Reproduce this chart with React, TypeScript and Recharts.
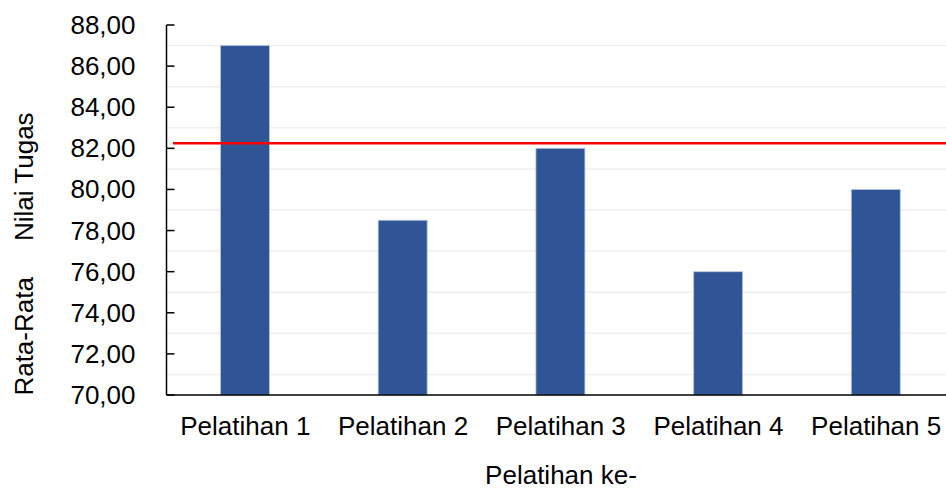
import React from "react";
import { BarChart, Bar, XAxis, YAxis, ReferenceLine, CartesianGrid } from "recharts";

const categories = ["Pelatihan 1", "Pelatihan 2", "Pelatihan 3", "Pelatihan 4", "Pelatihan 5"];
const values = [87, 78.5, 82, 76, 80];
const yTicks = [70, 72, 74, 76, 78, 80, 82, 84, 86, 88];
const gridValues = [71, 73, 75, 77, 79, 81, 83, 85, 87];
const targetValue = 82.25;
const xTitle = "Pelatihan ke-";
const yTitle = "Rata-Rata     Nilai Tugas";

const data = categories.map((c, i) => ({ name: c, value: values[i] }));

const FONT = "'Liberation Sans', Arial, sans-serif";

const YTick = (props: any) => {
  const { x, y, payload } = props;
  return (
    <g>
      <line x1={x} y1={y} x2={x + 8} y2={y} stroke="#000" strokeWidth={1.5} />
      <text x={x - 31} y={y + 9} textAnchor="end" fontSize={26} fontFamily={FONT} fill="#000">
        {payload.value.toFixed(2).replace(".", ",")}
      </text>
    </g>
  );
};

const XTick = (props: any) => {
  const { x, y, payload } = props;
  return (
    <text x={x} y={y + 40} textAnchor="middle" fontSize={26} fontFamily={FONT} fill="#000">
      {payload.value}
    </text>
  );
};

const RedLine = (props: any) => {
  const { x1, y1, x2, y2 } = props;
  return <line x1={x1 + 6.5} y1={y1} x2={x2} y2={y2} stroke="#ff0000" strokeWidth={2.6} />;
};

export default function App() {
  return (
    <div style={{ width: 946, height: 490, overflow: "hidden", position: "relative" }}>
      <style>{"html,body{margin:0;padding:0;overflow:hidden;}"}</style>
      <BarChart width={960} height={490} data={data} margin={{ top: 25, right: 5, bottom: 0, left: 0 }}>
        <CartesianGrid
          vertical={false}
          stroke="#eeeeee"
          strokeWidth={1.5}
          horizontalValues={gridValues}
        />
        <XAxis
          dataKey="name"
          height={95}
          tickSize={0}
          tickMargin={0}
          tick={<XTick />}
          axisLine={{ stroke: "#000", strokeWidth: 1.5 }}
          tickLine={false}
          interval={0}
        />
        <YAxis
          width={166.5}
          domain={[70, 88]}
          ticks={yTicks}
          tickSize={0}
          tickMargin={0}
          tick={<YTick />}
          axisLine={{ stroke: "#000", strokeWidth: 1.5 }}
          tickLine={false}
          interval={0}
        />
        <Bar dataKey="value" fill="#2F5597" stroke="#b8c8e6" strokeWidth={0.8} barSize={49} isAnimationActive={false} />
        <ReferenceLine y={targetValue} shape={<RedLine />} />
      </BarChart>
      <svg width={946} height={490} style={{ position: "absolute", left: 0, top: 0, pointerEvents: "none" }}>
        <text x={561} y={484} textAnchor="middle" fontSize={26} fontFamily={FONT} fill="#000">
          {xTitle}
        </text>
        <text
          transform="translate(24,254) rotate(-90)"
          x={0}
          y={9}
          textAnchor="middle"
          fontSize={26}
          fontFamily={FONT}
          fill="#000"
          style={{ whiteSpace: "pre" }}
        >
          {yTitle}
        </text>
      </svg>
    </div>
  );
}
